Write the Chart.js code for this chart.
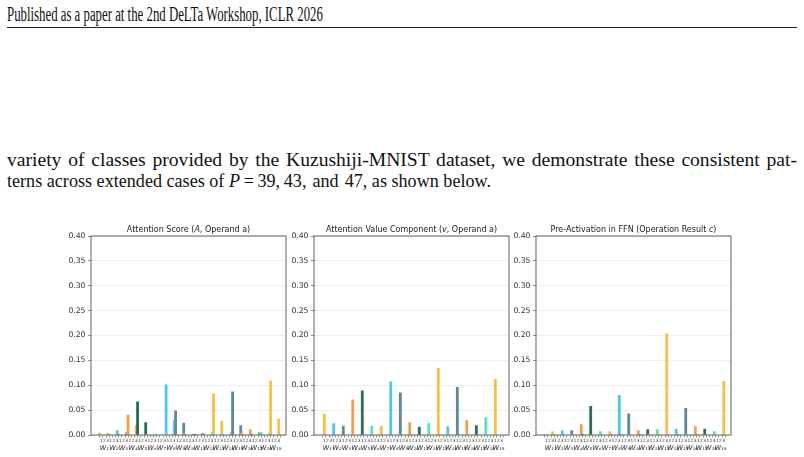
<!DOCTYPE html>
<html>
<head>
<meta charset="utf-8">
<script src="https://cdn.jsdelivr.net/npm/chart.js@4/dist/chart.umd.min.js"></script>
<style>
  body { margin: 0; background: #fff; width: 804px; height: 457px; overflow: hidden; position: relative;
         font-family: 'Liberation Serif', 'Times New Roman', serif; color: #111; }
  #hdr { position: absolute; left: 7px; top: 3px; font-size: 20.5px; line-height: 22px; white-space: nowrap;
         transform: scaleX(0.625); transform-origin: 0 0; }
  #rule { position: absolute; left: 7px; top: 26.5px; width: 790px; height: 0; border-top: 1.3px solid #222; }
  .p { position: absolute; left: 7px; width: 790px; font-size: 19.6px; line-height: 21.5px; white-space: nowrap; }
  .just { text-align: justify; text-align-last: justify; white-space: normal; }
  .narrow { transform: scaleX(0.925); transform-origin: 0 0; }
  .panel { position: absolute; top: 215px; width: 231px; height: 242px; }
</style>
</head>
<body>
<div id="hdr">Published as a paper at the 2nd DeLTa Workshop, ICLR 2026</div>
<div id="rule"></div>
<div class="p just" style="top:149px">variety of classes provided by the Kuzushiji-MNIST dataset, we demonstrate these consistent pat-</div>
<div class="p narrow" style="top:170px">terns across extended cases of <i>P</i>&#8201;=&#8201;39,&#8201;43,&#8202; and &#8202;47, as shown below.</div>

<div class="panel" style="left:61px"><canvas id="c1"></canvas></div>
<div class="panel" style="left:283.5px"><canvas id="c2"></canvas></div>
<div class="panel" style="left:506px"><canvas id="c3"></canvas></div>

<script>
// groups on the x axis and the three sub-position labels under each group
const groups = ['W₁','W₂','W₃','W₄','W₅','W₆','W₇','W₈','W₉','W₁₀',
                'W₁₁','W₁₂','W₁₃','W₁₄','W₁₅','W₁₆','W₁₇','W₁₈','W₁₉']
const subLabels = ['1', '2', '3']
const yTicks = [0, 0.05, 0.1, 0.15, 0.2, 0.25, 0.3, 0.35, 0.4]

// Attention Score (A, Operand a)
const attnFirst = [0.005, 0.002, 0.002, 0.041, 0.068, 0.001, 0.001, 0.102, 0.050, 0.003,
                   0.002, 0.003, 0.084, 0.002, 0.088, 0.004, 0.002, 0.006, 0.110]
const attnSecond = [0.0045, 0.010, 0.007, 0.020, 0.026, 0.002, 0.001, 0.030, 0.025, 0.003,
                    0.004, 0.007, 0.029, 0.006, 0.020, 0.012, 0.006, 0.005, 0.033]

// Attention Value Component (v, Operand a)
const valueFirst = [0.043, 0.024, 0.019, 0.072, 0.090, 0.019, 0.019, 0.108, 0.086, 0.026,
                    0.017, 0.024, 0.135, 0.018, 0.097, 0.030, 0.020, 0.036, 0.113]

// Pre-Activation in FFN (Operation Result c)
const ffnFirst = [0.0015, 0.001, 0.001, 0.001, 0.002, 0.001, 0.001, 0.002, 0.0015, 0.001,
                  0.001, 0.001, 0.002, 0.001, 0.002, 0.0015, 0.001, 0.001, 0.001]
const ffnSecond = [0.008, 0.010, 0.010, 0.022, 0.059, 0.008, 0.008, 0.081, 0.044, 0.010,
                   0.012, 0.012, 0.205, 0.013, 0.055, 0.018, 0.013, 0.008, 0.109]

const palette = ['#F4C246', '#50C4F1', '#5F8999', '#F29E4E', '#2E6B58', '#52E6B9']
const barOffset = [0, 0.5]
const tickOffset = [0, 1 / 3, 2 / 3]

const colorOf = i => palette[i % palette.length]

function makeSet(values, k) {
  return {
    data: values.map((v, i) => ({ x: i + barOffset[k], y: v })),
    backgroundColor: values.map((v, i) => colorOf(i)),
    borderColor: 'rgba(255,255,255,0.55)',
    borderWidth: 0.6,
    barThickness: 3.4,
  }
}

const frame = {
  id: 'frame',
  afterDraw(chart) {
    const a = chart.chartArea, ctx = chart.ctx
    ctx.save()
    ctx.strokeStyle = '#505050'
    ctx.lineWidth = 0.9
    ctx.strokeRect(a.left, a.top, a.right - a.left, a.bottom - a.top)
    // rich title, some parts italic
    const parts = chart.options.plugins.panelTitle.parts
    const fonts = parts.map(p => (p[1] ? 'italic ' : '') + '8px "DejaVu Sans"')
    let w = 0
    parts.forEach((p, j) => { ctx.font = fonts[j]; w += ctx.measureText(p[0]).width })
    let x = (a.left + a.right) / 2 - w / 2
    ctx.fillStyle = '#222'
    ctx.textBaseline = 'alphabetic'
    parts.forEach((p, j) => {
      ctx.font = fonts[j]
      ctx.fillText(p[0], x, a.top - 4)
      x += ctx.measureText(p[0]).width
    })
    ctx.restore()
  },
}

function panel(id, sets, title) {
  new Chart(document.getElementById(id), {
    type: 'bar',
    data: { datasets: sets },
    plugins: [frame],
    options: {
      responsive: true,
      maintainAspectRatio: false,
      animation: false,
      layout: { padding: { top: 21, right: 6, left: 0, bottom: 0 } },
      plugins: { legend: { display: false }, tooltip: { enabled: false }, panelTitle: { parts: title } },
      scales: {
        x: {
          type: 'linear', offset: false, min: -1.08, max: 19.44,
          afterBuildTicks: s => {
            s.ticks = []
            groups.forEach((g, i) => tickOffset.forEach(o => s.ticks.push({ value: i + o })))
          },
          afterFit: s => { s.height = 9 },
          grid: { drawOnChartArea: false, tickLength: 2.5, tickColor: '#444', lineWidth: 0.6 },
          border: { display: false },
          ticks: {
            autoSkip: false, maxRotation: 0, padding: 0.5, color: '#333',
            font: { family: 'DejaVu Sans', size: 4.4 },
            callback: (v, idx) => subLabels[idx % 3],
          },
        },
        x2: {
          type: 'linear', position: 'bottom', offset: false, min: -1.08, max: 19.44,
          afterBuildTicks: s => { s.ticks = groups.map((g, i) => ({ value: i + 1 / 3 })) },
          afterFit: s => { s.height = 13 },
          grid: { display: false, drawTicks: false },
          border: { display: false },
          ticks: {
            autoSkip: false, maxRotation: 0, padding: 0.5, color: '#222',
            font: { family: 'DejaVu Sans', size: 6.6, style: 'italic' },
            callback: (v, idx) => groups[idx],
          },
        },
        y: {
          min: 0, max: 0.4,
          afterBuildTicks: s => { s.ticks = yTicks.map(v => ({ value: v })) },
          afterFit: s => { s.width = 30 },
          grid: { color: '#e4e4e4', lineWidth: 0.6, borderDash: [2.5, 2], tickLength: 3,
                  tickColor: '#444', tickBorderDash: [] },
          border: { display: false },
          ticks: {
            padding: 2.5, color: '#333',
            font: { family: 'DejaVu Sans', size: 7.7 },
            callback: v => v.toFixed(2),
          },
        },
      },
    },
  })
}

panel('c1', [makeSet(attnFirst, 0), makeSet(attnSecond, 1)],
      [['Attention Score (', 0], ['A', 1], [', Operand a)', 0]])
panel('c2', [makeSet(valueFirst, 0)],
      [['Attention Value Component (', 0], ['v', 1], [', Operand a)', 0]])
panel('c3', [makeSet(ffnFirst, 0), makeSet(ffnSecond, 1)],
      [['Pre-Activation in FFN (Operation Result ', 0], ['c', 1], [')', 0]])
</script>
</body>
</html>
